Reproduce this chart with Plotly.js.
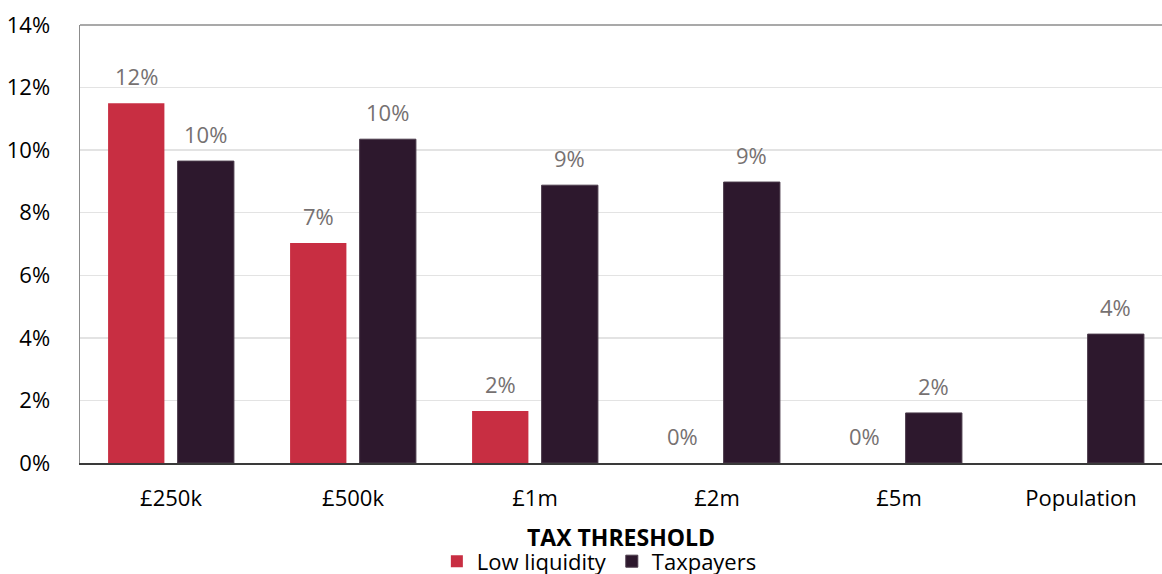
<!DOCTYPE html>
<html>
<head>
<meta charset="utf-8">
<script src="https://cdn.plot.ly/plotly-3.0.1.min.js"></script>
<style>html,body{margin:0;padding:0;background:#fff;}</style>
</head>
<body>
<div id="chart" style="width:1162px;height:574px;"></div>
<script>
const categories = ["£250k", "£500k", "£1m", "£2m", "£5m", "Population"];
const lowLiquidity = [11.5, 7.03, 1.66, 0, 0, null];
const taxpayers = [9.65, 10.35, 8.88, 8.98, 1.6, 4.12];
const yTicks = [0, 2, 4, 6, 8, 10, 12, 14];

const FONT = "Open Sans, Noto Sans, sans-serif";
const labelFont = {family: FONT, size: 22, color: "#767171"};

const traces = [
  {
    type: "bar", name: "Low liquidity", x: categories, y: lowLiquidity,
    marker: {color: "#C82E42"}, hoverinfo: "skip"
  },
  {
    type: "bar", name: "Taxpayers", x: categories, y: taxpayers,
    marker: {color: "#2D182D", line: {color: "#4a3a4a", width: 1}}, hoverinfo: "skip"
  }
];

// data labels above each bar, derived from the series arrays
const annotations = [];
const series = [{vals: lowLiquidity, shift: -34.5}, {vals: taxpayers, shift: 34.5}];
series.forEach(s => {
  s.vals.forEach((v, i) => {
    if (v === null) return;
    annotations.push({
      x: categories[i], y: v, xref: "x", yref: "y",
      xshift: s.shift, yshift: 27, yanchor: "middle", xanchor: "center",
      text: Math.round(v) + "%", showarrow: false, font: labelFont
    });
  });
});

// x-axis title
annotations.push({
  x: 0.5, y: -0.169, xref: "paper", yref: "paper", xanchor: "center", yanchor: "middle",
  text: "<b>TAX THRESHOLD</b>", showarrow: false,
  font: {family: FONT, size: 23, color: "#000"}
});

const layout = {
  width: 1162, height: 574,
  margin: {l: 80, r: 0, t: 25, b: 111},
  paper_bgcolor: "#fff", plot_bgcolor: "#fff",
  font: {family: FONT, size: 22, color: "#000"},
  barmode: "group", bargap: 0.236, bargroupgap: 0.19,
  showlegend: true,
  legend: {
    orientation: "h", x: 0.48, xanchor: "center",
    yref: "container", y: 0.022, yanchor: "middle",
    font: {family: FONT, size: 22, color: "#000"}, traceorder: "normal",
    itemwidth: 30, tracegroupgap: 0
  },
  annotations: annotations,
  xaxis: {
    type: "category", range: [-0.5, 5.445],
    showline: true, linecolor: "#3a3a3a", linewidth: 2,
    showgrid: false, ticks: "", tickfont: {family: FONT, size: 22, color: "#000"},
    ticklabelstandoff: 15
  },
  yaxis: {
    range: [0, 14], tickvals: yTicks, ticktext: yTicks.map(v => v + "%"),
    showgrid: true, gridcolor: "#e3e3e3", gridwidth: 1.5,
    showline: true, linecolor: "#8c8c8c", linewidth: 1.5,
    zeroline: false, ticks: "", ticklabelstandoff: 24,
    tickfont: {family: FONT, size: 22, color: "#000"}
  },
  shapes: [
    {type: "line", xref: "paper", yref: "paper", x0: 0, x1: 1, y0: 1, y1: 1,
     line: {color: "#8c8c8c", width: 1.5}}
  ]
};

Plotly.newPlot("chart", traces, layout, {staticPlot: true, displayModeBar: false});
</script>
</body>
</html>
